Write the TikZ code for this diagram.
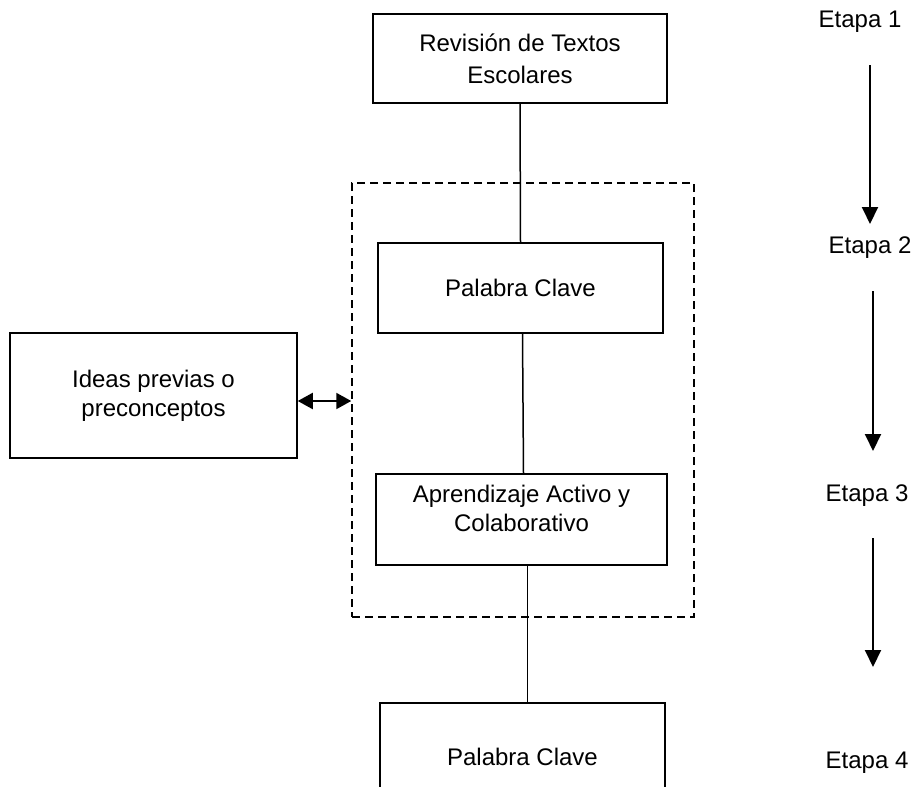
\documentclass[tikz,border=0pt]{standalone}
\usepackage{fontspec}
\setmainfont{Liberation Sans}
\usetikzlibrary{arrows.meta, positioning}
\tikzset{
    box/.style = {draw, rectangle, line width=0.75pt, text centered, align=center, fill=white, font=\fontsize{12}{14.5}\selectfont},
    group/.style = {draw, rectangle, dashed, dash pattern=on 4pt off 2.5pt, line width=0.75pt},
    stage/.style = {font=\fontsize{12}{14.5}\selectfont},
    arrow/.style = {-{Triangle[length=8.5pt, width=8pt]}, line width=1pt},
    darrow/.style = {{Triangle[length=7.5pt, width=8pt]}-{Triangle[length=7.5pt, width=8pt]}, line width=1pt},
    link/.style = {line width=0.75pt}
}

\begin{document}
\begin{tikzpicture}[x=0.5pt, y=-0.5pt]
    \useasboundingbox (0,0) rectangle (921,787);
    \clip (0,0) rectangle (921,787);

    \node[group, minimum width=171pt, minimum height=217pt] (grp) at (523,400) {};

    \node[box, minimum width=147pt, minimum height=44.5pt, font=\fontsize{12}{16}\selectfont] (R) at (520,58.5) {Revisión de Textos\\Escolares};
    \node[box, minimum width=142.5pt, minimum height=45pt] (P1) at (520.5,288) {Palabra Clave};
    \node[box, minimum width=145.5pt, minimum height=45.5pt, text depth=11pt] (A) at (521.5,519.5) {Aprendizaje Activo y\\Colaborativo};
    \node[box, minimum width=142.5pt, minimum height=54pt] (P2) at (522.5,757) {Palabra Clave};
    \node[box, minimum width=143.5pt, minimum height=62.5pt] (I) at (153.5,395.5) {Ideas previas o\\preconceptos};

    \draw[link] (R.south) -- (P1.north);
    \draw[link] ([xshift=1pt]P1.south) -- ([xshift=1pt]A.north);
    \draw[link] ([xshift=3pt]A.south) -- ([xshift=2.5pt]P2.north);
    \draw[darrow] ([yshift=-2.75pt]I.east) -- ([yshift=-2.75pt]I.east -| grp.west);

    % stages on the right
    \node[stage] (E1) at (860,22) {Etapa 1};
    \node[stage] (E2) at (870,248) {Etapa 2};
    \node[stage] (E3) at (867,496) {Etapa 3};
    \node[stage] (E4) at (867,763) {Etapa 4};

    \coordinate (a1) at (870,65);
    \coordinate (b1) at (870,224);
    \coordinate (a2) at (873,291);
    \coordinate (b2) at (873,451);
    \coordinate (a3) at (873,538);
    \coordinate (b3) at (873,667);

    \draw[arrow] (a1) -- (b1);
    \draw[arrow] (a2) -- (b2);
    \draw[arrow] (a3) -- (b3);
\end{tikzpicture}
\end{document}
